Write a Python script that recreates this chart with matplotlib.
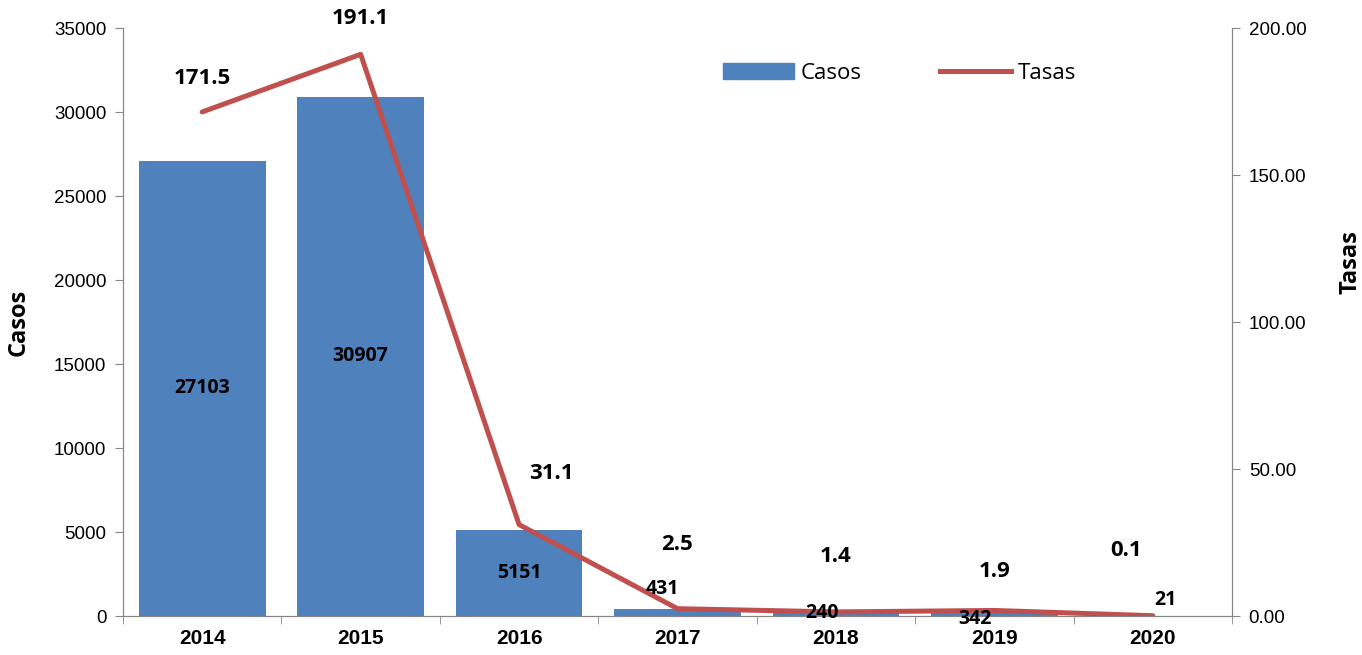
import numpy as np
import matplotlib
matplotlib.use('Agg')
from matplotlib import pyplot as plt
from matplotlib.lines import Line2D
from matplotlib.patches import Patch

years = ['2014', '2015', '2016', '2017', '2018', '2019', '2020']
casos = [27103, 30907, 5151, 431, 240, 342, 21]
tasas = [171.5, 191.1, 31.1, 2.5, 1.4, 1.9, 0.1]
tasas_txt = ['171.5', '191.1', '31.1', '2.5', '1.4', '1.9', '0.1']

# label offsets (points) - hand placed like in the original
tasa_off = [(0, 24), (0, 26), (23, 37), (0, 46), (0, 40), (0, 28), (-19, 47)]
caso_off = [None, None, None, (-11, 14), (-10, -1), (-14, -6), (9, 11)]

bar_c = '#4F81BD'
line_c = '#C0504D'
grey = '#868686'

fig = plt.figure(figsize=(13.62, 6.55), dpi=100)
ax = fig.add_axes([0.0903, 0.0595, 0.8143, 0.8975])
ax2 = ax.twinx()

x = np.arange(len(years))
ax.bar(x, casos, width=0.8, color=bar_c, zorder=2)
ax2.plot(x, tasas, color=line_c, lw=3.6, zorder=3, solid_capstyle='round')

ax.set_xlim(-0.5, len(years) - 0.5)
ax.set_ylim(0, 35000)
ax2.set_ylim(0, 200)
ax.set_yticks(np.arange(0, 35001, 5000))
ax2.set_yticks(np.arange(0, 201, 50))
ax2.set_yticklabels(['%.2f' % v for v in np.arange(0, 201, 50)])

ax.set_xticks(x)
ax.set_xticklabels(years, fontsize=15, fontweight='bold', family='Liberation Sans')
ax.set_xticks(np.arange(-0.5, len(years)), minor=True)
ax.tick_params(axis='x', which='major', length=0, pad=9)
ax.tick_params(axis='x', which='minor', length=6, color=grey, direction='out')
ax.tick_params(axis='y', length=6, color=grey, labelsize=13.5, pad=6)
ax2.tick_params(axis='y', length=6, color=grey, labelsize=13.5, pad=6)
for t in ax.get_yticklabels() + ax2.get_yticklabels():
    t.set_family('Liberation Sans')

for a in (ax, ax2):
    a.spines['top'].set_visible(False)
    a.spines['left'].set_color(grey)
    a.spines['right'].set_color(grey)
    a.spines['bottom'].set_color(grey)

ax.set_ylabel('Casos', fontsize=17, fontweight='bold', family='Open Sans')
ax2.set_ylabel('Tasas', fontsize=17, fontweight='bold', family='Open Sans')
ax.yaxis.set_label_coords(-0.083, 0.5)
ax2.yaxis.set_label_coords(1.096, 0.602)

# bar labels (drawn on ax2 so they sit above the line)
for i, v in enumerate(casos):
    if caso_off[i] is None:
        ax2.annotate(str(v), (i, v / 2), xycoords=ax.transData,
                     ha='center', va='center', fontsize=14,
                     fontweight='bold', family='Open Sans', zorder=5)
    else:
        ax2.annotate(str(v), (i, v), xycoords=ax.transData, xytext=caso_off[i],
                     textcoords='offset points', ha='center', va='center',
                     fontsize=14, fontweight='bold', family='Open Sans', zorder=5)

# line labels
for i, v in enumerate(tasas):
    ax2.annotate(tasas_txt[i], (i, v), xytext=tasa_off[i], textcoords='offset points',
                 ha='center', va='center', fontsize=16, fontweight='bold',
                 family='Open Sans')

handles = [Patch(color=bar_c), Line2D([], [], color=line_c, lw=3.6)]
ax2.legend(handles, ['Casos', 'Tasas'], ncol=2, frameon=False,
           loc='center', bbox_to_anchor=(0.700, 0.923),
           handlelength=3.2, handletextpad=0.3, columnspacing=3.5,
           prop={'family': 'Open Sans', 'size': 16})

fig.savefig('out.png', dpi=100)
